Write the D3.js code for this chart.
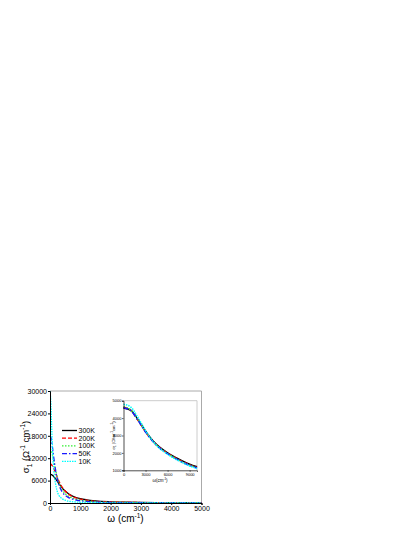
<!DOCTYPE html>
<html>
<head>
<meta charset="utf-8">
<script src="https://cdn.jsdelivr.net/npm/d3@7"></script>
<style>
  body { margin: 0; background: #fff; }
  text { font-family: "Liberation Sans", Arial, sans-serif; }
</style>
</head>
<body>
<svg id="chart" width="415" height="537"></svg>
<script>
// data
var temps = ["300K", "200K", "100K", "50K", "10K"];
var colors = ["#000000", "#ff0000", "#33ee33", "#1a1aff", "#00ffff"];
var dashes = [null, "4,2", "1.5,1.5", "5,2,1.5,2", "1.5,1"];

// main panel: frequency grid (cm-1) and sigma1 (Ohm-1 cm-1)
var omega = [0, 25, 50, 75, 100, 150, 200, 250, 300, 400, 500, 600, 700, 800, 1000, 1200, 1500, 2000, 2500, 3000, 3500, 4000, 4500, 5000];
var sig300 = [7700, 7670, 7590, 7460, 7280, 6830, 6280, 5690, 5090, 4040, 3190, 2530, 2040, 1670, 1170, 860, 560, 325, 210, 148, 110, 85, 66, 54];
var sig200 = [10500, 10440, 10260, 9980, 9620, 8700, 7680, 6680, 5750, 4250, 3200, 2440, 1910, 1530, 1040, 750, 480, 280, 180, 125, 95, 72, 56, 46];
var sig100 = [14500, 14330, 13840, 13110, 12190, 10180, 8260, 6640, 5340, 3560, 2530, 1870, 1440, 1140, 760, 530, 340, 190, 122, 86, 63, 48, 38, 31];
var sig50 = [18000, 17660, 16710, 15330, 13750, 10620, 8000, 6080, 4710, 2990, 2070, 1520, 1160, 910, 600, 420, 260, 145, 95, 65, 48, 37, 29, 23];
var sig10 = [30000, 27340, 21570, 15970, 11710, 6940, 4460, 2790, 1990, 1150, 750, 520, 390, 300, 190, 133, 85, 48, 30, 21, 16, 12, 9, 8];

// inset panel
var omegaIn = [0, 1000, 2000, 3000, 4000, 5000, 6000, 7000, 8000, 9000, 10000];
var in300 = [4580, 4450, 3900, 3250, 2700, 2300, 2000, 1750, 1540, 1350, 1200];
var in200 = [4620, 4440, 3860, 3210, 2670, 2270, 1980, 1720, 1500, 1310, 1160];
var in100 = [4650, 4460, 3870, 3220, 2660, 2260, 1960, 1700, 1480, 1290, 1140];
var in50 = [4600, 4430, 3850, 3200, 2650, 2250, 1950, 1690, 1470, 1280, 1130];
var in10 = [4800, 4630, 4010, 3280, 2670, 2230, 1920, 1660, 1440, 1250, 1100];

var xTicks = [0, 1000, 2000, 3000, 4000, 5000];
var yTicks = [0, 6000, 12000, 18000, 24000, 30000];
var xTicksIn = [0, 3000, 6000, 9000];
var yTicksIn = [1000, 2000, 3000, 4000, 5000];

var mainSeries = [sig300, sig200, sig100, sig50, sig10];
var insetSeries = [in300, in200, in100, in50, in10];

var svg = d3.select("#chart");

// ---- main panel ----
var x = d3.scaleLinear().domain([0, 5000]).range([50, 201.5]);
var y = d3.scaleLinear().domain([0, 30000]).range([503, 391]);

svg.append("clipPath").attr("id", "clipMain")
  .append("rect").attr("x", 50).attr("y", 390).attr("width", 152).attr("height", 113.5);

// frame top/right in grey
svg.append("path")
  .attr("d", "M50,391H201.5V503")
  .attr("fill", "none").attr("stroke", "#aaa").attr("stroke-width", 1);

var line = d3.line().curve(d3.curveMonotoneX);

var gMain = svg.append("g").attr("clip-path", "url(#clipMain)");
mainSeries.forEach(function (s, i) {
  gMain.append("path")
    .attr("d", line(omega.map(function (w, j) { return [x(w), y(s[j])]; })))
    .attr("fill", "none")
    .attr("stroke", colors[i])
    .attr("stroke-width", 1.3)
    .attr("stroke-dasharray", dashes[i]);
});

var xAxis = svg.append("g").attr("transform", "translate(0,503)")
  .call(d3.axisBottom(x).tickValues(xTicks).tickSize(2).tickFormat(d3.format("d")));
var yAxis = svg.append("g").attr("transform", "translate(50,0)")
  .call(d3.axisLeft(y).tickValues(yTicks).tickSize(2).tickFormat(d3.format("d")));
[xAxis, yAxis].forEach(function (g) {
  g.selectAll("text").attr("font-size", 7).attr("fill", "#000")
    .style("font-family", "Liberation Sans, Arial, sans-serif");
  g.select(".domain").attr("stroke", "#000");
});
xAxis.selectAll("text").attr("dy", "0.75em").attr("y", 3);
yAxis.selectAll("text").attr("x", -3);

// axis titles
var xt = svg.append("text").attr("x", 125.5).attr("y", 522)
  .attr("text-anchor", "middle").attr("font-size", 10);
xt.append("tspan").text("\u03c9 (cm");
xt.append("tspan").attr("dy", -4).attr("font-size", 6.5).text("-1");
xt.append("tspan").attr("dy", 4).text(")");

var yt = svg.append("text")
  .attr("transform", "translate(29,447) rotate(-90)")
  .attr("text-anchor", "middle").attr("font-size", 9.5);
yt.append("tspan").text("\u03c3");
yt.append("tspan").attr("dy", 2.5).attr("font-size", 6.5).text("1");
yt.append("tspan").attr("dy", -2.5).text(" (\u03a9");
yt.append("tspan").attr("dy", -4).attr("font-size", 6.5).text("-1");
yt.append("tspan").attr("dy", 4).text(" cm");
yt.append("tspan").attr("dy", -4).attr("font-size", 6.5).text("-1");
yt.append("tspan").attr("dy", 4).text(")");

// legend
var leg = svg.append("g");
temps.forEach(function (t, i) {
  var ly = 430.5 + i * 7.7;
  leg.append("line")
    .attr("x1", 62).attr("x2", 77).attr("y1", ly).attr("y2", ly)
    .attr("stroke", colors[i]).attr("stroke-width", 1.3)
    .attr("stroke-dasharray", dashes[i]);
  leg.append("text").attr("x", 78.5).attr("y", ly + 2.5)
    .attr("font-size", 7).text(t);
});

// ---- inset ----
var xi = d3.scaleLinear().domain([0, 10000]).range([123.5, 197]);
var yi = d3.scaleLinear().domain([1000, 5000]).range([470.3, 400.7]);

svg.append("path")
  .attr("d", "M123.5,400.7H197V470.3")
  .attr("fill", "none").attr("stroke", "#ccc").attr("stroke-width", 1);

insetSeries.forEach(function (s, i) {
  svg.append("path")
    .attr("d", d3.line().curve(d3.curveMonotoneX)(omegaIn.map(function (w, j) { return [xi(w), yi(s[j])]; })))
    .attr("fill", "none")
    .attr("stroke", colors[i])
    .attr("stroke-width", 1.5)
    .attr("stroke-dasharray", dashes[i]);
});

var xAxisIn = svg.append("g").attr("transform", "translate(0,470.3)")
  .call(d3.axisBottom(xi).tickValues(xTicksIn).tickSize(1.5).tickFormat(d3.format("d")));
var yAxisIn = svg.append("g").attr("transform", "translate(123.5,0)")
  .call(d3.axisLeft(yi).tickValues(yTicksIn).tickSize(1.5).tickFormat(d3.format("d")));
[xAxisIn, yAxisIn].forEach(function (g) {
  g.selectAll("text").attr("font-size", 4).attr("fill", "#000")
    .style("font-family", "Liberation Sans, Arial, sans-serif");
  g.select(".domain").attr("stroke", "#000").attr("stroke-width", 0.7);
  g.selectAll(".tick line").attr("stroke-width", 0.6);
});
xAxisIn.selectAll("text").attr("y", 2.5);
yAxisIn.selectAll("text").attr("x", -2);

var xti = svg.append("text").attr("x", 160).attr("y", 482)
  .attr("text-anchor", "middle").attr("font-size", 4.5);
xti.append("tspan").text("\u03c9(cm");
xti.append("tspan").attr("dy", -1.8).attr("font-size", 3).text("-1");
xti.append("tspan").attr("dy", 1.8).text(")");

var yti = svg.append("text")
  .attr("transform", "translate(114.5,435.5) rotate(-90)")
  .attr("text-anchor", "middle").attr("font-size", 4.2);
yti.append("tspan").text("\u03c3");
yti.append("tspan").attr("dy", 1).attr("font-size", 3).text("1");
yti.append("tspan").attr("dy", -1).text(" (Ohm");
yti.append("tspan").attr("dy", -1.8).attr("font-size", 3).text("-1");
yti.append("tspan").attr("dy", 1.8).text("cm");
yti.append("tspan").attr("dy", -1.8).attr("font-size", 3).text("-1");
yti.append("tspan").attr("dy", 1.8).text(")");
</script>
</body>
</html>
